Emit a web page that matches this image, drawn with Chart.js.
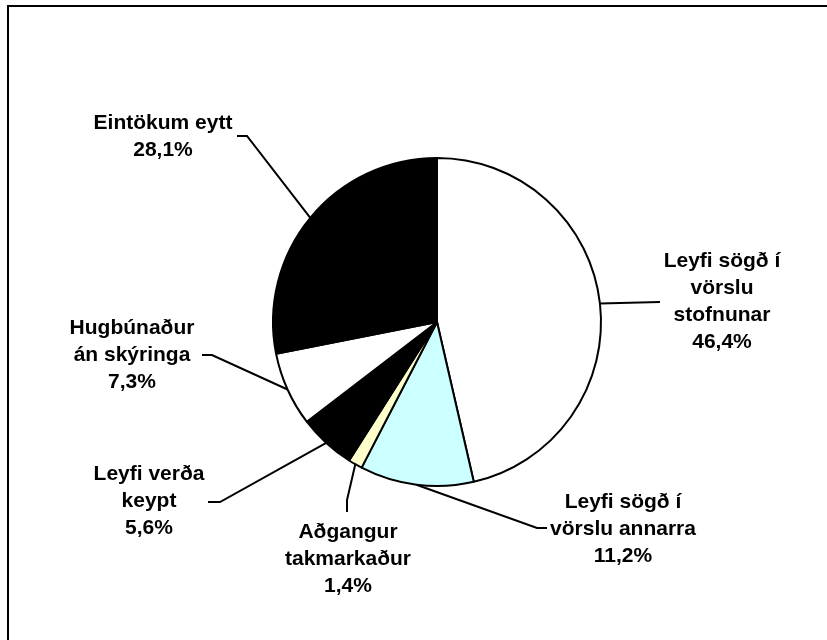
<!DOCTYPE html>
<html>
<head>
<meta charset="utf-8">
<script src="https://cdn.jsdelivr.net/npm/chart.js@4"></script>
<style>
  html, body { margin: 0; padding: 0; background: #fff; }
  #wrap { width: 827px; height: 640px; }
</style>
</head>
<body>
<div id="wrap"><canvas id="grafica" width="827" height="640"></canvas></div>
<script>
// Flokkar (hver lína merkis sér)
const flokkar = [
  ['Leyfi sögð í', 'vörslu', 'stofnunar'],
  ['Leyfi sögð í', 'vörslu annarra'],
  ['Aðgangur', 'takmarkaður'],
  ['Leyfi verða', 'keypt'],
  ['Hugbúnaður', 'án skýringa'],
  ['Eintökum eytt']
];
// Hlutfall (%)
const gildi = [46.4, 11.2, 1.4, 5.6, 7.3, 28.1];
const litir = ['#ffffff', '#ccffff', '#ffffcc', '#000000', '#ffffff', '#000000'];

// staðsetning merkja: hné línu, endi línu, miðja texta
const merkiStadir = [
  { hne: [660, 302], endi: [660, 302], x: 722, y: 301.5 },
  { hne: [537, 528], endi: [547, 528], x: 623, y: 529 },
  { hne: [347, 500], endi: [347, 512], x: 348, y: 559 },
  { hne: [220, 502], endi: [208, 502], x: 149, y: 501 },
  { hne: [212, 355], endi: [202, 355], x: 132, y: 355 },
  { hne: [247, 136], endi: [237, 136], x: 163, y: 136.5 }
];

function prosenta(v) {
  return v.toFixed(1).replace('.', ',') + '%';
}

const rammi = {
  id: 'rammi',
  beforeDraw(chart) {
    const ctx = chart.ctx;
    ctx.save();
    ctx.fillStyle = '#fff';
    ctx.fillRect(0, 0, chart.width, chart.height);
    ctx.fillStyle = '#000';
    ctx.fillRect(7, 5, chart.width - 7, 2);
    ctx.fillRect(7, 5, 2, chart.height - 5);
    ctx.restore();
  }
};

const merki = {
  id: 'merki',
  afterDatasetsDraw(chart) {
    const ctx = chart.ctx;
    const meta = chart.getDatasetMeta(0);
    ctx.save();
    ctx.strokeStyle = '#000';
    ctx.lineWidth = 2;
    ctx.fillStyle = '#000';
    ctx.font = 'bold 21px "Liberation Sans", Arial, sans-serif';
    ctx.textAlign = 'center';
    ctx.textBaseline = 'middle';
    meta.data.forEach((arc, i) => {
      const p = arc.getProps(['x', 'y', 'startAngle', 'endAngle', 'outerRadius'], true);
      const mid = (p.startAngle + p.endAngle) / 2;
      const sx = p.x + Math.cos(mid) * p.outerRadius;
      const sy = p.y + Math.sin(mid) * p.outerRadius;
      const s = merkiStadir[i];
      ctx.beginPath();
      ctx.moveTo(sx, sy);
      ctx.lineTo(s.hne[0], s.hne[1]);
      ctx.lineTo(s.endi[0], s.endi[1]);
      ctx.stroke();
      const lines = flokkar[i].concat([prosenta(gildi[i])]);
      const lh = 27;
      const y0 = s.y - (lines.length - 1) * lh / 2;
      lines.forEach((t, k) => ctx.fillText(t, s.x, y0 + k * lh));
    });
    ctx.restore();
  }
};

const ctx = document.getElementById('grafica').getContext('2d');
new Chart(ctx, {
  type: 'pie',
  data: {
    labels: flokkar.map(f => f.join(' ')),
    datasets: [{
      data: gildi,
      backgroundColor: litir,
      borderColor: '#000',
      borderWidth: 2,
      radius: 164
    }]
  },
  options: {
    responsive: false,
    animation: false,
    layout: { padding: { left: 273, right: 226, top: 158, bottom: 154 } },
    plugins: {
      legend: { display: false },
      tooltip: { enabled: false }
    }
  },
  plugins: [rammi, merki]
});
</script>
</body>
</html>
